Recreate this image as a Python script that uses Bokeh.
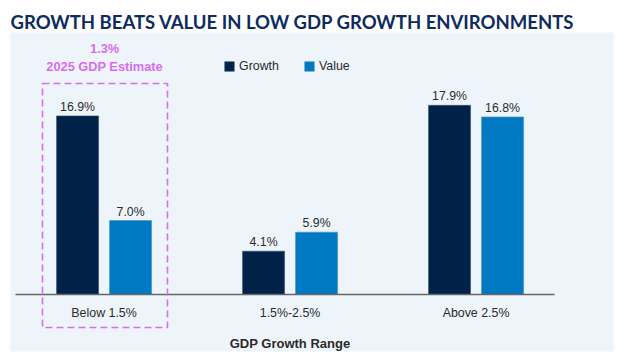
from bokeh.plotting import figure
from bokeh.models import (ColumnDataSource, Range1d, FixedTicker, Legend, LegendItem,
                          BoxAnnotation, Label)
from bokeh.transform import dodge
from bokeh.core.properties import value
from bokeh.embed import file_html
from bokeh.resources import INLINE

# ---- data ----
categories = ["Below 1.5%", "1.5%-2.5%", "Above 2.5%"]
growth = [16.9, 4.1, 17.9]
value_ret = [7.0, 5.9, 16.8]
series = ["Growth", "Value"]
title_text = "GROWTH BEATS VALUE IN LOW GDP GROWTH ENVIRONMENTS"
axis_title = "GDP Growth Range"
estimate_value = "1.3%"
estimate_label = "2025 GDP Estimate"

idx = list(range(len(categories)))
src = ColumnDataSource(dict(
    idx=idx,
    growth=growth,
    value=value_ret,
    growth_lbl=[f"{v:.1f}%" for v in growth],
    value_lbl=[f"{v:.1f}%" for v in value_ret],
))

GROWTH_C = "#002248"
VALUE_C = "#0078C2"
PINK = "#D96CF0"
TXT = "#2B2B2B"
FONT = "Liberation Sans"

p = figure(width=621, height=357,
           x_range=Range1d(-0.503, 2.739), y_range=Range1d(-5.39, 24.79),
           output_backend="svg", toolbar_location=None,
           min_border_left=10, min_border_right=8, min_border_top=32, min_border_bottom=6,
           background_fill_color="#EEF5FA", border_fill_color="white",
           outline_line_color=None)
p.grid.visible = False
p.yaxis.visible = False

p.title.text = title_text
p.title.text_font = "Lato"
p.title.text_font_style = "bold"
p.title.text_font_size = "18.5px"
p.title.text_color = "#0E2B5E"
p.title.align = "left"
p.title.standoff = 0
p.title.offset = 0

off = 0.1425
bw = 0.226
rg = p.vbar(x=dodge("idx", -off, range=p.x_range), top="growth", width=bw, source=src,
            fill_color=GROWTH_C, line_color="#3a5470", line_width=0.6)
rv = p.vbar(x=dodge("idx", off, range=p.x_range), top="value", width=bw, source=src,
            fill_color=VALUE_C, line_color="#4b90c8", line_width=0.6)

for col, d in (("growth", -off), ("value", off)):
    p.text(x=dodge("idx", d, range=p.x_range), y=col, text=col + "_lbl", source=src,
           text_align="center", text_baseline="alphabetic", y_offset=-9,
           text_font=value(FONT), text_font_size="12.3px", text_color=TXT)

xa = p.xaxis[0]
xa.fixed_location = 0
xa.bounds = (-0.476, 2.422)
xa.ticker = FixedTicker(ticks=idx)
xa.major_label_overrides = {i: c for i, c in zip(idx, categories)}
xa.axis_line_color = "#666666"
xa.axis_line_width = 1.6
xa.major_tick_line_color = None
xa.minor_tick_line_color = None
xa.major_tick_out = 0
xa.major_tick_in = 0
xa.major_label_standoff = 11
xa.major_label_text_font = FONT
xa.major_label_text_font_size = "12.4px"
xa.major_label_text_color = TXT

p.add_layout(Label(x=1, y=-4.6, text=axis_title, text_align="center", text_baseline="middle",
                   text_font=FONT, text_font_style="bold", text_font_size="13px",
                   text_color=TXT))

# highlight box
p.add_layout(BoxAnnotation(left=-0.331, right=0.341, top=19.96, bottom=-3.12,
                           fill_color=None, fill_alpha=0, line_color=PINK, line_alpha=1,
                           line_width=1.6, line_dash="7 4"))
p.add_layout(Label(x=0.003, y=23.27, text=estimate_value, text_align="center",
                   text_baseline="middle", text_font=FONT, text_font_style="bold",
                   text_font_size="12.8px", text_color=PINK))
p.add_layout(Label(x=0.003, y=21.57, text=estimate_label, text_align="center",
                   text_baseline="middle", text_font=FONT, text_font_style="bold",
                   text_font_size="12.8px", text_color=PINK))

legend = Legend(items=[LegendItem(label=series[0], renderers=[rg]),
                       LegendItem(label=series[1], renderers=[rv])],
                orientation="horizontal", location=(213, 278),
                glyph_width=12, glyph_height=12, label_standoff=4, spacing=24,
                padding=0, margin=0, border_line_color=None, background_fill_alpha=0,
                label_text_font=FONT, label_text_font_size="12.4px", label_text_color=TXT,
                label_height=12)
p.add_layout(legend)

open("out.html", "w").write(file_html(p, INLINE))
